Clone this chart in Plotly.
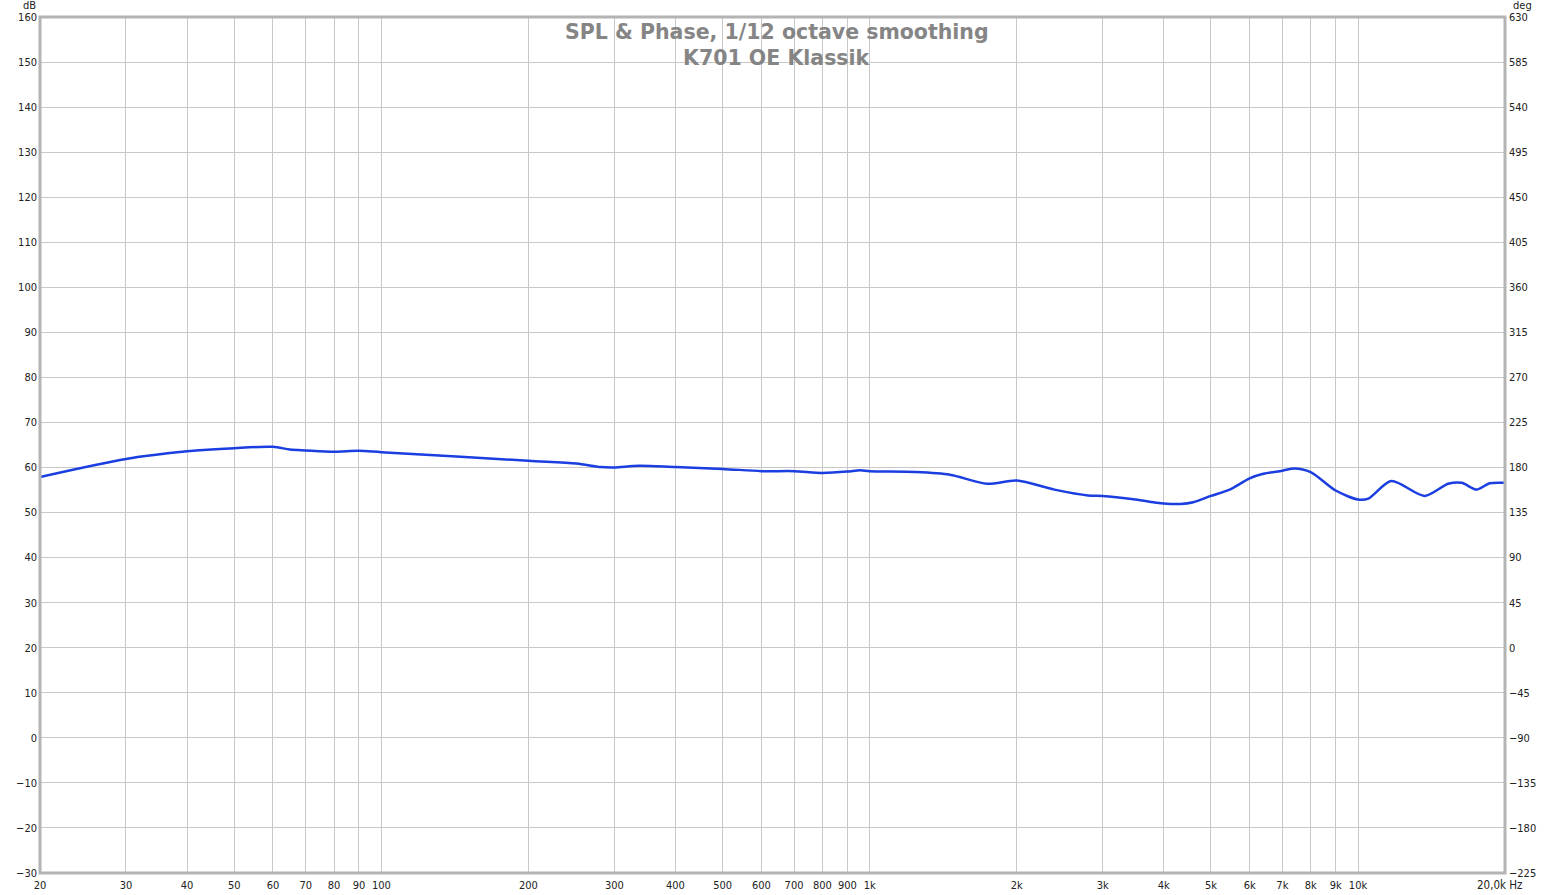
import math
import plotly.graph_objects as go

# Data
freq_hz = [20, 30, 40, 50, 60, 65, 70, 80, 90, 100, 200, 251, 281, 300, 337, 400, 500, 600, 700,
           800, 900, 955, 1000, 1240, 1460, 1740, 2000, 2390, 2800, 3000, 3500, 3860, 4000,
           4330, 4600, 5000, 5460, 6000, 6400, 7000, 7400, 8000, 9000, 10000, 10500, 11700,
           13700, 15300, 16300, 17500, 18600, 20000]
spl_db = [57.9, 61.9, 63.6, 64.3, 64.6, 64.0, 63.8, 63.5, 63.7, 63.4, 61.5, 60.9, 60.1, 60.0, 60.4,
          60.1, 59.7, 59.2, 59.2, 58.8, 59.1, 59.4, 59.2, 59.0, 58.4, 56.4, 57.1, 55.1, 53.8,
          53.7, 52.9, 52.2, 52.0, 51.9, 52.3, 53.7, 55.1, 57.6, 58.6, 59.3, 59.8, 59.0, 54.9,
          52.9, 53.1, 57.0, 53.7, 56.4, 56.6, 55.1, 56.5, 56.6]

x_tick_vals = [20, 30, 40, 50, 60, 70, 80, 90, 100, 200, 300, 400, 500, 600, 700, 800, 900,
               1000, 2000, 3000, 4000, 5000, 6000, 7000, 8000, 9000, 10000, 20000]
x_tick_text = ["20", "30", "40", "50", "60", "70", "80", "90", "100", "200", "300", "400", "500",
               "600", "700", "800", "900", "1k", "2k", "3k", "4k", "5k", "6k", "7k", "8k", "9k",
               "10k", "20,0k"]
db_range = [-30, 160]
deg_range = [-225, 630]

title_lines = ["SPL &amp; Phase, 1/12 octave smoothing", "K701 OE Klassik"]

FONT = "DejaVu Sans Condensed, DejaVu Sans, sans-serif"
GRID = "#c8c8c8"

# last x label is drawn together with the unit as an annotation
shown_tick_text = x_tick_text[:-1] + [""]

fig = go.Figure()
fig.add_trace(go.Scatter(x=freq_hz, y=spl_db, mode="lines",
                         line=dict(color="#1a3ee0", width=2.5, shape="spline", smoothing=0.8),
                         hoverinfo="x+y", showlegend=False))
# invisible trace to activate the right-hand axis
fig.add_trace(go.Scatter(x=[freq_hz[0]], y=[deg_range[0]], yaxis="y2", mode="markers",
                         marker=dict(opacity=0), showlegend=False, hoverinfo="skip"))

fig.update_layout(
    width=1555, height=895,
    margin=dict(l=40, r=50, t=17, b=22),
    paper_bgcolor="white", plot_bgcolor="white",
    font=dict(family=FONT, size=11, color="#222"),
    xaxis=dict(type="log", range=[math.log10(20), math.log10(20000)],
               tickvals=x_tick_vals, ticktext=shown_tick_text, tickangle=0, automargin=False,
               showgrid=True, gridcolor=GRID, gridwidth=1, zeroline=False, ticklabelstandoff=4,
               ticks="", ticklen=0, showline=False, tickfont=dict(size=11, family=FONT)),
    yaxis=dict(range=db_range, dtick=10, tick0=0, showgrid=True, gridcolor=GRID, gridwidth=1,
               automargin=False, zeroline=False, ticks="", showline=False, ticklabelstandoff=2,
               tickfont=dict(size=11, family=FONT)),
    yaxis2=dict(range=deg_range, dtick=45, tick0=0, overlaying="y", side="right",
                automargin=False, showgrid=False, zeroline=False, ticks="", showline=False,
                ticklabelstandoff=3, tickfont=dict(size=11, family=FONT)),
    shapes=[dict(type="rect", xref="paper", yref="paper", x0=0, x1=1, y0=0, y1=1,
                 line=dict(color="#b4b4b4", width=3), layer="above")],
    annotations=[
        dict(text="<b>" + title_lines[0] + "</b>", xref="paper", yref="paper", x=0.5, y=1,
             xshift=4, yshift=-15, showarrow=False,
             font=dict(family="DejaVu Sans, sans-serif", size=20.5, color="#858585"),
             xanchor="center", yanchor="middle"),
        dict(text="<b>" + title_lines[1] + "</b>", xref="paper", yref="paper", x=0.5, y=1,
             xshift=4, yshift=-41, showarrow=False,
             font=dict(family="DejaVu Sans, sans-serif", size=20.5, color="#858585"),
             xanchor="center", yanchor="middle"),
        dict(text="dB", xref="paper", yref="paper", x=0, y=1, xshift=-11, yshift=12,
             showarrow=False, xanchor="center", yanchor="middle", font=dict(size=11, family=FONT)),
        dict(text="deg", xref="paper", yref="paper", x=1, y=1, xshift=6, yshift=12,
             showarrow=False, xanchor="left", yanchor="middle", font=dict(size=11, family=FONT)),
        dict(text=x_tick_text[-1] + " Hz", xref="paper", yref="paper", x=1, y=0, xshift=20, yshift=-12,
             showarrow=False, xanchor="right", yanchor="middle", font=dict(size=11.5, family=FONT)),
    ],
)

fig.write_html("out.html", config={"displayModeBar": False},
               post_script="document.body.style.margin='0';")
